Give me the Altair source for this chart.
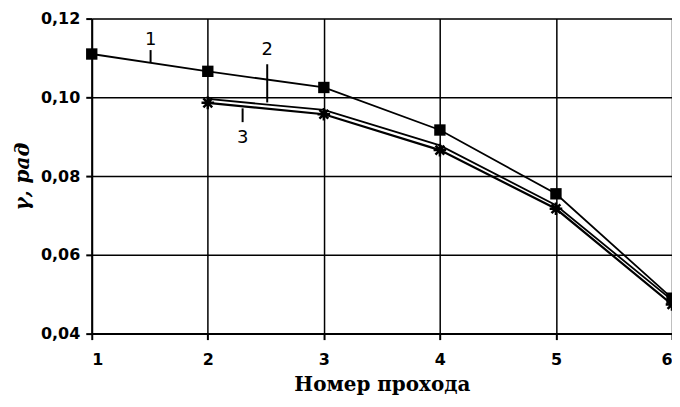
import altair as alt
import pandas as pd

passes = [1, 2, 3, 4, 5, 6]
series1 = [0.1110, 0.1066, 0.1025, 0.0917, 0.0755, 0.0490]
series2_x = [2, 3, 4, 5, 6]
series2 = [0.0996, 0.0968, 0.0878, 0.0726, 0.0485]
series3_x = [2, 3, 4, 5, 6]
series3 = [0.0986, 0.0957, 0.0866, 0.0717, 0.0474]

label_text = ["1", "2", "3"]
label_x = [1.507, 2.512, 2.30]
label_y = [0.1146, 0.1120, 0.0897]
leader_y1 = [0.1120, 0.1084, 0.0972]
leader_y2 = [0.1089, 0.0987, 0.0937]

df1 = pd.DataFrame({"x": passes, "y": series1})
df2 = pd.DataFrame({"x": series2_x, "y": series2})
df3 = pd.DataFrame({"x": series3_x, "y": series3})
dfl = pd.DataFrame({"x": label_x, "y": label_y, "t": label_text,
                    "y1": leader_y1, "y2": leader_y2})

xs = alt.Scale(domain=[1, 6], nice=False, zero=False)
ys = alt.Scale(domain=[0.04, 0.12], nice=False, zero=False)

xenc = alt.X("x:Q", scale=xs, axis=alt.Axis(
    values=[1, 2, 3, 4, 5, 6], format="d", title="Номер прохода",
    titleFont="DejaVu Serif", titleFontSize=20, titleFontWeight="bold",
    titleColor="black", titlePadding=7,
    labelFont="DejaVu Sans", labelFontSize=16, labelFontWeight="bold",
    labelColor="black", labelPadding=12,
    grid=True, gridColor="black", gridWidth=1.5, gridOpacity=1,
    domain=True, domainColor="black", domainWidth=2,
    ticks=True, tickColor="black", tickSize=6, tickWidth=2))
yenc = alt.Y("y:Q", scale=ys, axis=alt.Axis(
    values=[0.04, 0.06, 0.08, 0.10, 0.12],
    labelExpr="replace(format(datum.value, '.2f'), '.', ',')",
    title="γ, рад", titleFont="DejaVu Serif", titleFontSize=20,
    titleFontStyle="italic", titleFontWeight="bold", titleColor="black",
    titlePadding=8,
    labelFont="DejaVu Sans", labelFontSize=16, labelFontWeight="bold",
    labelColor="black", labelPadding=6,
    grid=True, gridColor="black", gridWidth=1.5, gridOpacity=1,
    domain=True, domainColor="black", domainWidth=2,
    ticks=True, tickColor="black", tickSize=6, tickWidth=2))

line1 = alt.Chart(df1).mark_line(color="black", strokeWidth=1.8).encode(x=xenc, y=yenc)
pts1 = alt.Chart(df1).mark_point(shape="square", filled=True, color="black",
                                 size=130, opacity=1).encode(x="x:Q", y="y:Q")
line2 = alt.Chart(df2).mark_line(color="black", strokeWidth=1.8).encode(x="x:Q", y="y:Q")
line3 = alt.Chart(df3).mark_line(color="black", strokeWidth=2.2).encode(x="x:Q", y="y:Q")
star = "M-1,0L1,0M0,-1L0,1M-0.7,-0.7L0.7,0.7M-0.7,0.7L0.7,-0.7"
pts3 = alt.Chart(df3).mark_point(shape=star, filled=False, color="black",
                                 size=160, strokeWidth=2.5, opacity=1).encode(x="x:Q", y="y:Q")

leaders = alt.Chart(dfl).mark_rule(color="black", strokeWidth=2).encode(
    x="x:Q", y="y1:Q", y2="y2:Q")
labels = alt.Chart(dfl).mark_text(font="DejaVu Sans", fontSize=18,
                                  color="black", baseline="middle").encode(
    x="x:Q", y="y:Q", text="t:N")

chart = alt.layer(line1, line2, line3, pts1, pts3, leaders, labels).properties(
    width=582, height=316,
    autosize=alt.AutoSizeParams(type="none"),
    padding={"left": 84, "top": 10, "right": 0, "bottom": 72},
).configure_view(stroke="black", strokeWidth=2).configure(background="white")

chart.save("out.html", embed_options={"renderer": "svg", "actions": False})
